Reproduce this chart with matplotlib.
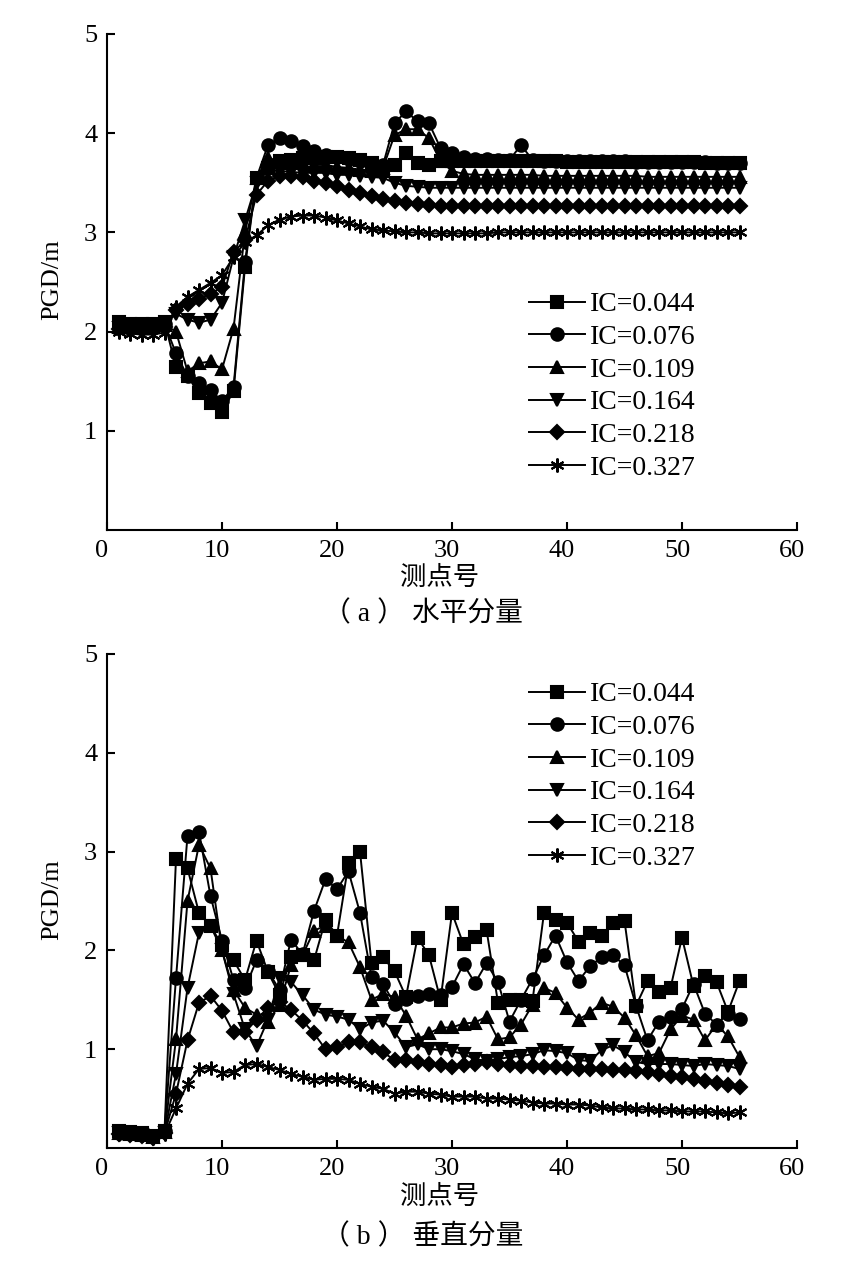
import matplotlib
matplotlib.use('Agg')
import matplotlib.pyplot as plt
import matplotlib.transforms as mtransforms

plt.rcParams['font.family'] = ['Liberation Serif', 'Noto Sans CJK SC']
plt.rcParams['axes.unicode_minus'] = False

stations = list(range(1, 56))
labels = ['IC=0.044', 'IC=0.076', 'IC=0.109', 'IC=0.164', 'IC=0.218', 'IC=0.327']
x_ticks = [0, 10, 20, 30, 40, 50, 60]
y_ticks = [1, 2, 3, 4, 5]

# (a) horizontal component
h_044 = [2.10, 2.08, 2.08, 2.08, 2.10, 1.64, 1.55, 1.38, 1.28, 1.19,
         1.40, 2.65, 3.55, 3.65, 3.72, 3.73, 3.75, 3.75, 3.76, 3.76,
         3.75, 3.73, 3.70, 3.62, 3.68, 3.80, 3.70, 3.68, 3.72, 3.72,
         3.72, 3.72, 3.72, 3.72, 3.72, 3.72, 3.72, 3.72, 3.72, 3.71,
         3.71, 3.71, 3.71, 3.71, 3.71, 3.71, 3.71, 3.71, 3.71, 3.71,
         3.71, 3.70, 3.70, 3.70, 3.70]
h_076 = [2.08, 2.07, 2.07, 2.07, 2.08, 1.78, 1.55, 1.48, 1.41, 1.30,
         1.44, 2.70, 3.55, 3.88, 3.95, 3.92, 3.87, 3.82, 3.78, 3.76,
         3.74, 3.72, 3.70, 3.68, 4.10, 4.22, 4.12, 4.10, 3.85, 3.80,
         3.76, 3.74, 3.74, 3.73, 3.73, 3.88, 3.73, 3.72, 3.72, 3.72,
         3.72, 3.72, 3.72, 3.72, 3.72, 3.71, 3.71, 3.71, 3.71, 3.71,
         3.71, 3.71, 3.70, 3.70, 3.70]
h_109 = [2.05, 2.05, 2.05, 2.06, 2.07, 2.00, 1.60, 1.68, 1.70, 1.62,
         2.03, 3.00, 3.55, 3.75, 3.72, 3.70, 3.70, 3.68, 3.68, 3.66,
         3.65, 3.63, 3.62, 3.65, 3.98, 4.04, 4.04, 3.95, 3.72, 3.62,
         3.59, 3.58, 3.58, 3.58, 3.58, 3.58, 3.58, 3.57, 3.57, 3.57,
         3.57, 3.57, 3.57, 3.57, 3.57, 3.57, 3.56, 3.56, 3.56, 3.56,
         3.56, 3.56, 3.56, 3.56, 3.56]
h_164 = [2.04, 2.03, 2.03, 2.04, 2.06, 2.18, 2.12, 2.09, 2.12, 2.29,
         2.75, 3.12, 3.50, 3.62, 3.62, 3.61, 3.60, 3.60, 3.60, 3.58,
         3.58, 3.57, 3.56, 3.55, 3.50, 3.47, 3.46, 3.45, 3.45, 3.45,
         3.45, 3.45, 3.45, 3.45, 3.45, 3.45, 3.45, 3.45, 3.45, 3.45,
         3.45, 3.45, 3.45, 3.45, 3.45, 3.45, 3.45, 3.45, 3.45, 3.45,
         3.45, 3.45, 3.45, 3.45, 3.45]
h_218 = [2.03, 2.02, 2.02, 2.03, 2.05, 2.22, 2.28, 2.33, 2.38, 2.45,
         2.80, 2.92, 3.38, 3.52, 3.57, 3.57, 3.56, 3.52, 3.50, 3.47,
         3.43, 3.40, 3.37, 3.34, 3.32, 3.30, 3.29, 3.28, 3.27, 3.27,
         3.27, 3.27, 3.27, 3.27, 3.27, 3.27, 3.27, 3.27, 3.27, 3.27,
         3.27, 3.27, 3.27, 3.27, 3.27, 3.27, 3.27, 3.27, 3.27, 3.27,
         3.27, 3.27, 3.27, 3.27, 3.27]
h_327 = [2.00, 1.98, 1.97, 1.97, 1.99, 2.25, 2.35, 2.42, 2.49, 2.57,
         2.75, 2.90, 2.97, 3.07, 3.13, 3.16, 3.17, 3.17, 3.15, 3.12,
         3.09, 3.06, 3.03, 3.02, 3.01, 3.00, 3.00, 2.99, 2.99, 2.99,
         2.99, 2.99, 2.99, 3.00, 3.00, 3.00, 3.00, 3.00, 3.00, 3.00,
         3.00, 3.00, 3.00, 3.00, 3.00, 3.00, 3.00, 3.00, 3.00, 3.00,
         3.00, 3.00, 3.00, 3.00, 3.00]

# (b) vertical component
v_044 = [0.17, 0.16, 0.15, 0.12, 0.17, 2.93, 2.83, 2.38, 2.25, 2.05,
         1.90, 1.70, 2.10, 1.78, 1.55, 1.93, 1.95, 1.90, 2.31, 2.15,
         2.88, 3.00, 1.87, 1.93, 1.79, 1.53, 2.13, 1.95, 1.50, 2.38,
         2.06, 2.14, 2.21, 1.47, 1.50, 1.50, 1.49, 2.38, 2.31, 2.28,
         2.09, 2.18, 2.15, 2.28, 2.30, 1.44, 1.69, 1.58, 1.62, 2.13,
         1.64, 1.74, 1.68, 1.38, 1.69]
v_076 = [0.15, 0.15, 0.14, 0.12, 0.17, 1.72, 3.16, 3.20, 2.55, 2.10,
         1.70, 1.62, 1.90, 1.79, 1.60, 2.11, 1.96, 2.40, 2.72, 2.62,
         2.80, 2.38, 1.73, 1.66, 1.46, 1.51, 1.54, 1.56, 1.55, 1.63,
         1.86, 1.67, 1.87, 1.68, 1.28, 1.50, 1.71, 1.95, 2.15, 1.88,
         1.69, 1.84, 1.93, 1.95, 1.85, 1.44, 1.09, 1.28, 1.33, 1.41,
         1.66, 1.36, 1.25, 1.36, 1.31]
v_109 = [0.15, 0.14, 0.13, 0.11, 0.16, 1.10, 2.50, 3.07, 2.83, 2.00,
         1.60, 1.42, 1.35, 1.28, 1.45, 1.85, 1.95, 2.20, 2.25, 2.15,
         2.08, 1.83, 1.50, 1.56, 1.53, 1.34, 1.10, 1.16, 1.22, 1.22,
         1.26, 1.27, 1.33, 1.10, 1.12, 1.25, 1.45, 1.62, 1.57, 1.42,
         1.30, 1.37, 1.47, 1.43, 1.32, 1.14, 0.93, 0.96, 1.20, 1.34,
         1.30, 1.09, 1.25, 1.13, 0.92]
v_164 = [0.15, 0.14, 0.13, 0.10, 0.15, 0.75, 1.62, 2.18, 2.25, 2.00,
         1.56, 1.20, 1.03, 1.30, 1.72, 1.68, 1.55, 1.40, 1.35, 1.33,
         1.30, 1.20, 1.27, 1.29, 1.17, 1.02, 1.05, 1.00, 1.00, 0.98,
         0.95, 0.90, 0.88, 0.90, 0.92, 0.93, 0.95, 0.99, 0.98, 0.96,
         0.89, 0.88, 0.99, 1.04, 0.97, 0.87, 0.85, 0.85, 0.85, 0.84,
         0.83, 0.85, 0.84, 0.83, 0.80]
v_218 = [0.14, 0.13, 0.12, 0.10, 0.15, 0.55, 1.09, 1.47, 1.54, 1.39,
         1.17, 1.17, 1.30, 1.42, 1.48, 1.40, 1.29, 1.16, 1.00, 1.02,
         1.07, 1.07, 1.02, 0.97, 0.89, 0.89, 0.87, 0.85, 0.84, 0.82,
         0.84, 0.85, 0.87, 0.85, 0.84, 0.83, 0.83, 0.82, 0.82, 0.81,
         0.80, 0.80, 0.80, 0.79, 0.79, 0.78, 0.77, 0.75, 0.73, 0.72,
         0.70, 0.68, 0.66, 0.64, 0.62]
v_327 = [0.14, 0.14, 0.13, 0.10, 0.14, 0.40, 0.65, 0.80, 0.81, 0.76,
         0.77, 0.84, 0.85, 0.82, 0.79, 0.75, 0.72, 0.69, 0.70, 0.70,
         0.69, 0.65, 0.62, 0.60, 0.55, 0.57, 0.57, 0.55, 0.54, 0.52,
         0.52, 0.52, 0.50, 0.50, 0.49, 0.48, 0.46, 0.45, 0.45, 0.44,
         0.44, 0.43, 0.41, 0.40, 0.40, 0.39, 0.39, 0.38, 0.38, 0.37,
         0.37, 0.37, 0.36, 0.35, 0.36]

markers = ['s', 'o', '^', 'v', 'D', (6, 2, 0)]
msizes = [8, 9, 9, 9, 7, 10]

W, H = 842, 1279
fig = plt.figure(figsize=(W / 100, H / 100), dpi=100)

def px_x(p):
    return p / W

def px_y(p):
    return 1 - p / H

ax1 = fig.add_axes([px_x(107), px_y(530), px_x(797) - px_x(107), px_y(34) - px_y(530)])
ax2 = fig.add_axes([px_x(107), px_y(1148), px_x(797) - px_x(107), px_y(654) - px_y(1148)])


def draw(ax, series, leg_anchor):
    for vals, lab, mk, ms in zip(series, labels, markers, msizes):
        ax.plot(stations, vals, color='black', lw=1.4, marker=mk, ms=ms,
                mfc='black', mec='black', mew=1.5, label=lab)
    ax.set_xlim(0, 60)
    ax.set_ylim(0, 5)
    ax.set_xticks(x_ticks)
    ax.set_yticks(y_ticks)
    for s in ['top', 'right']:
        ax.spines[s].set_visible(False)
    for s in ['left', 'bottom']:
        ax.spines[s].set_linewidth(1.5)
    ax.tick_params(direction='in', length=6, width=1.5, labelsize=19)
    ax.tick_params(axis='x', pad=7)
    ax.tick_params(axis='y', pad=7)
    off = mtransforms.ScaledTranslation(-5 / 100, 0, fig.dpi_scale_trans)
    for lbl in ax.get_xticklabels():
        lbl.set_transform(lbl.get_transform() + off)
    ax.legend(loc='upper left', bbox_to_anchor=leg_anchor, frameon=False,
              fontsize=20, handlelength=2.0, handletextpad=0.2,
              labelspacing=0.26, borderpad=0, borderaxespad=0)


draw(ax1, [h_044, h_076, h_109, h_164, h_218, h_327], (0.612, (530 - 292) / 496))
draw(ax2, [v_044, v_076, v_109, v_164, v_218, v_327], (0.612, (1148 - 682) / 494))

fig.text(px_x(52), px_y(280), 'PGD/m', rotation=90, ha='center', va='center', fontsize=19)
fig.text(px_x(52), px_y(900), 'PGD/m', rotation=90, ha='center', va='center', fontsize=19)
fig.text(px_x(440), px_y(578), '测点号', ha='center', va='center', fontsize=19)
fig.text(px_x(523), px_y(614), '（ a ） 水平分量', ha='right', va='center', fontsize=20)
fig.text(px_x(440), px_y(1197), '测点号', ha='center', va='center', fontsize=19)
fig.text(px_x(523), px_y(1237), '（ b ） 垂直分量', ha='right', va='center', fontsize=20)

fig.savefig('out.png', dpi=100)
